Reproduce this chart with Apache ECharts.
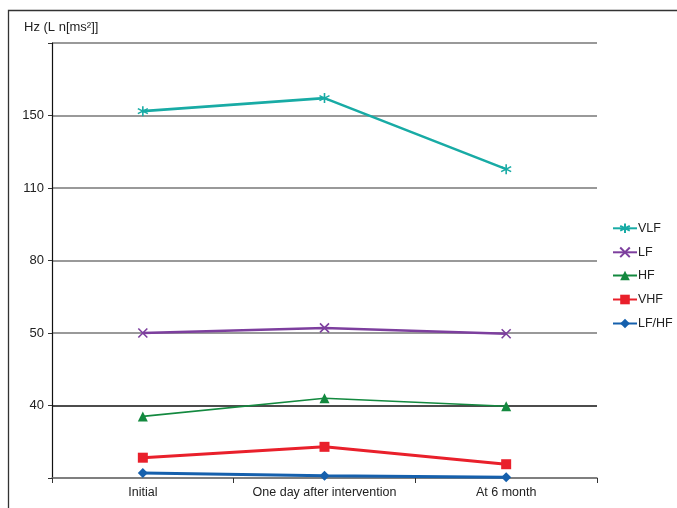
<!DOCTYPE html>
<html>
<head>
<meta charset="utf-8">
<script src="https://cdn.jsdelivr.net/npm/echarts@6/dist/echarts.min.js"></script>
<style>
html,body{margin:0;padding:0;background:#fff;}
#chart{width:677px;height:508px;}
</style>
</head>
<body>
<div id="chart"></div>
<script>
// Categories on the x axis
const categories = ['Initial', 'One day after intervention', 'At 6 month'];
// Y tick labels (uneven scale as printed; gridlines equally spaced, positions 0..6)
const yTickLabels = ['', '40', '50', '80', '110', '150', ''];
// Legend names
const seriesNames = ['VLF', 'LF', 'HF', 'VHF', 'LF/HF'];
// Series values expressed in gridline-position units (0 = bottom axis, 6 = top gridline)
const vlf  = [5.06, 5.24, 4.26];
const lf   = [2.00, 2.07, 1.99];
const hf   = [0.85, 1.10, 0.99];
const vhf  = [0.28, 0.43, 0.19];
const lfhf = [0.07, 0.03, 0.01];

const FONT = '"Liberation Sans Narrow", "Arial Narrow", "Liberation Sans", sans-serif';
const asterisk = 'path://M5,0L5,10M0.7,2.5L9.3,7.5M9.3,2.5L0.7,7.5M5,0L5,10';
const cross = 'path://M0,0L10,10M10,0L0,10';

function lineSeries(name, data, color, width, symbol, size, stroke) {
  return {
    name, type: 'line', data,
    symbol, symbolSize: size,
    lineStyle: {color, width},
    itemStyle: stroke ? {color: 'none', borderColor: color, borderWidth: 1.6} : {color},
    emphasis: {disabled: true},
    z: 3
  };
}

const legends = seriesNames.map((n, i) => ({
  orient: 'vertical', left: 612, top: 221 + i * 24,
  itemWidth: 24, itemHeight: 12, itemGap: 0, padding: 0,
  textStyle: {fontFamily: FONT, fontSize: 12.5, color: '#222', padding: [0,0,0,-4]},
  data: [n]
}));

const chart = echarts.init(document.getElementById('chart'));
chart.setOption({
  animation: false,
  backgroundColor: '#fff',
  textStyle: {fontFamily: FONT},
  grid: {left: 52, right: 80, top: 43, bottom: 30, containLabel: false},
  graphic: [
    {type: 'rect', shape: {x: 8.5, y: 10.5, width: 700, height: 520},
     style: {fill: 'none', stroke: '#333', lineWidth: 1.3}, silent: true},
    {type: 'text', left: 24, top: 21,
     style: {text: 'Hz (L n[ms²]]', fill: '#222', font: '13px ' + FONT}}
  ],
  legend: legends,
  xAxis: {
    type: 'category', data: categories, boundaryGap: true,
    axisLine: {lineStyle: {color: '#777', width: 1.5}},
    axisTick: {show: true, length: 5, lineStyle: {color: '#333', width: 1}},
    axisLabel: {color: '#222', fontSize: 12.5, fontFamily: FONT, margin: 8, interval: 0}
  },
  yAxis: {
    type: 'value', min: 0, max: 6, interval: 1,
    axisLine: {show: true, lineStyle: {color: '#111', width: 1.2}},
    axisTick: {show: true, length: 4, lineStyle: {color: '#333'}},
    axisLabel: {color: '#222', fontSize: 13, fontFamily: FONT, margin: 8,
      formatter: v => yTickLabels[Math.round(v)] || ''},
    splitLine: {show: true, lineStyle: {color: ['#777', '#111', '#777', '#777', '#777', '#777', '#777'], width: 1.5}}
  },
  series: [
    lineSeries(seriesNames[0], vlf, '#18aba5', 2.6, asterisk, 10, true),
    lineSeries(seriesNames[1], lf, '#7d3f9e', 2.6, cross, 9, true),
    lineSeries(seriesNames[2], hf, '#13893f', 1.6, 'triangle', 10, false),
    lineSeries(seriesNames[3], vhf, '#e9202b', 3, 'rect', 10, false),
    lineSeries(seriesNames[4], lfhf, '#1560ad', 3, 'diamond', 10, false)
  ]
});
</script>
</body>
</html>
